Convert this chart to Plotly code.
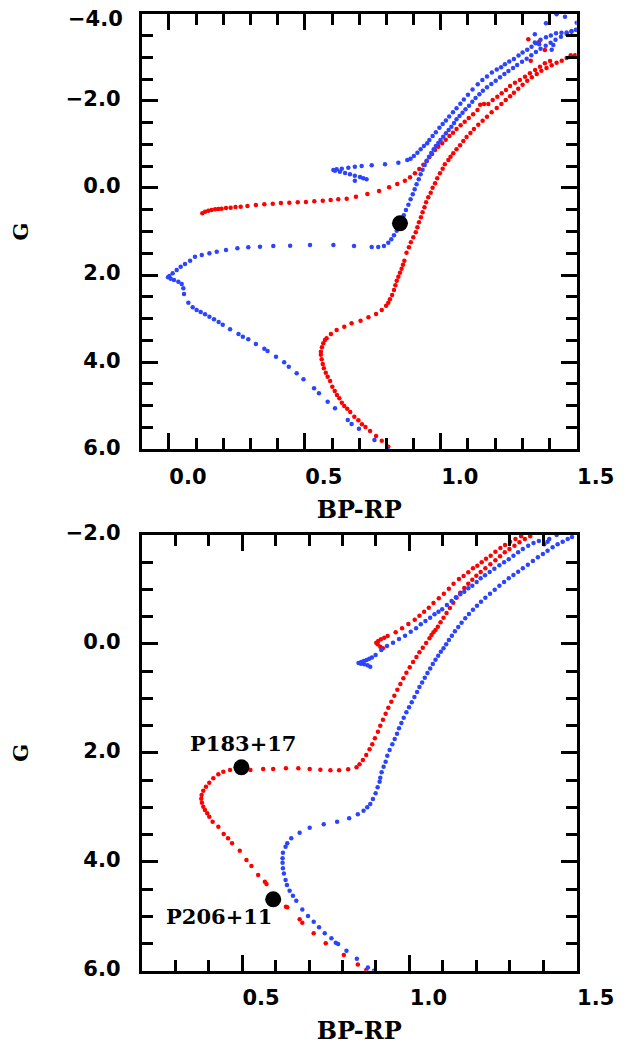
import plotly.graph_objects as go

# ---------------- data (BP-RP, G) ----------------
# Top panel
top_red_rgb = [(0.807,5.939),(0.783,5.802),(0.762,5.695),(0.740,5.580),(0.723,5.488),(0.710,5.427),(0.697,5.335),(0.682,5.251),
 (0.667,5.144),(0.656,5.067),(0.645,5.006),(0.636,4.929),(0.627,4.830),(0.618,4.754),(0.610,4.662),(0.601,4.562),(0.593,4.432),
 (0.584,4.333),(0.577,4.241),(0.570,4.141),(0.566,4.042),(0.562,3.935),(0.559,3.828),(0.559,3.759),(0.563,3.659),(0.568,3.567),
 (0.574,3.491),(0.580,3.453),(0.596,3.353),(0.617,3.261),(0.645,3.185),(0.672,3.108),(0.705,3.047),(0.734,2.970),(0.762,2.894),
 (0.783,2.802),(0.799,2.703),(0.807,2.634),(0.813,2.557),(0.821,2.458),(0.828,2.343),(0.833,2.236),(0.838,2.129),(0.844,2.037),
 (0.850,1.945),(0.856,1.853),(0.861,1.761),(0.866,1.670),(0.874,1.486),(0.883,1.363),(0.890,1.249),(0.899,1.134),(0.908,1.019),
 (0.914,0.904),(0.920,0.790),(0.927,0.675),(0.933,0.560),(0.940,0.445),(0.946,0.330),(0.954,0.216),(0.963,0.109),(0.970,-0.006),
 (0.979,-0.106),(0.987,-0.220),(0.997,-0.335),(1.007,-0.443),(1.015,-0.542),(1.028,-0.641),(1.036,-0.718),(1.046,-0.794),
 (1.058,-0.886),(1.071,-0.978),(1.083,-1.078),(1.095,-1.169),(1.109,-1.261),(1.122,-1.353),(1.138,-1.453),(1.154,-1.544),
 (1.170,-1.636),(1.187,-1.736),(1.206,-1.835),(1.223,-1.927),(1.239,-2.019),(1.255,-2.103),(1.269,-2.187),(1.285,-2.279),
 (1.301,-2.371),(1.318,-2.463),(1.335,-2.539),(1.353,-2.616),(1.370,-2.692),(1.389,-2.753),(1.408,-2.815),(1.426,-2.876),
 (1.445,-2.922),(1.463,-2.983),(1.478,-3.044),(1.494,-3.044)]

top_red_loop = [(0.123,0.583),(0.133,0.545),(0.145,0.522),(0.157,0.506),(0.170,0.491),(0.182,0.483),(0.194,0.476),(0.210,0.461),
 (0.227,0.453),(0.245,0.437),(0.264,0.430),(0.289,0.415),(0.320,0.392),(0.351,0.376),(0.382,0.361),(0.412,0.346),(0.443,0.338),
 (0.474,0.330),(0.504,0.323),(0.535,0.308),(0.566,0.292),(0.595,0.277),(0.623,0.261),(0.654,0.246),(0.688,0.200),(0.730,0.139),
 (0.773,0.070),(0.810,-0.014),(0.840,-0.090),(0.868,-0.167),(0.887,-0.243),(0.905,-0.335),(0.921,-0.435),(0.936,-0.534),
 (0.948,-0.611),(0.958,-0.703),(0.968,-0.779),(0.979,-0.871),(0.991,-0.947),(1.005,-1.024),(1.018,-1.108),(1.032,-1.192),
 (1.045,-1.269),(1.058,-1.353),(1.073,-1.437),(1.088,-1.521),(1.103,-1.606),(1.119,-1.690),(1.135,-1.789),(1.145,-1.912),
 (1.159,-1.927),(1.175,-1.927),(1.191,-2.019),(1.208,-2.095),(1.224,-2.172),(1.240,-2.248),(1.255,-2.340),(1.273,-2.417),
 (1.291,-2.478),(1.310,-2.554),(1.328,-2.631),(1.347,-2.708),(1.365,-2.784),(1.383,-2.860),(1.402,-2.914),
 (1.322,-3.411),(1.362,-3.358),(1.383,-3.167),(1.331,-2.922)]

top_blue_ms = [(0.803,6.001),(0.756,5.786),(0.699,5.526),(0.672,5.419),(0.658,5.327),(0.611,5.060),(0.584,4.906),(0.552,4.715),
 (0.534,4.600),(0.495,4.394),(0.470,4.256),(0.441,4.103),(0.424,4.004),(0.394,3.873),(0.363,3.743),(0.351,3.690),(0.320,3.583),
 (0.292,3.475),(0.272,3.414),(0.256,3.353),(0.225,3.246),(0.198,3.139),(0.183,3.078),(0.166,3.016),(0.149,2.955),(0.133,2.902),
 (0.117,2.848),(0.102,2.802),(0.0875,2.741),(0.0716,2.634),(0.0556,2.435),(0.0532,2.305),(0.0471,2.205),(0.0348,2.152),
 (0.0189,2.113),(0.0066,2.083),(-0.0032,2.052),(0.0017,2.022),(0.0139,1.960),(0.0287,1.884),(0.0434,1.807),(0.0593,1.746),
 (0.078,1.670),(0.096,1.578),(0.121,1.540),(0.149,1.501),(0.176,1.463),(0.210,1.425),(0.252,1.386),(0.292,1.363),(0.335,1.348),
 (0.384,1.333),(0.446,1.325),(0.519,1.310),(0.605,1.310),(0.681,1.333),(0.746,1.356),(0.770,1.356),(0.791,1.333),(0.807,1.256),
 (0.818,1.180),(0.828,1.088),(0.838,0.981),(0.846,0.874),(0.855,0.751),(0.864,0.629),(0.872,0.507),(0.881,0.384),(0.889,0.262),
 (0.897,0.147),(0.904,0.032),(0.911,-0.083),(0.919,-0.198),(0.926,-0.312),(0.933,-0.419),(0.941,-0.527),(0.948,-0.626),
 (0.957,-0.718),(0.965,-0.802),(0.974,-0.886),(0.982,-0.963),(0.991,-1.032),(0.999,-1.101),(1.009,-1.177),(1.019,-1.254),
 (1.029,-1.330),(1.039,-1.407),(1.049,-1.491),(1.058,-1.575),(1.069,-1.652),(1.080,-1.728),(1.091,-1.805),(1.104,-1.889),
 (1.116,-1.981),(1.128,-2.065),(1.142,-2.149),(1.155,-2.233),(1.170,-2.310),(1.186,-2.386),(1.202,-2.463),(1.218,-2.539),
 (1.234,-2.616),(1.249,-2.685),(1.266,-2.754),(1.281,-2.822),(1.299,-2.899),(1.316,-2.968),(1.333,-3.044),(1.350,-3.121),
 (1.367,-3.197),(1.386,-3.266),(1.404,-3.335),(1.422,-3.404),(1.442,-3.473),(1.463,-3.534),(1.481,-3.588),(1.500,-3.626)]

top_blue_loop = [(0.684,-0.167),(0.727,-0.197),(0.715,-0.220),(0.703,-0.251),(0.684,-0.282),(0.666,-0.312),(0.648,-0.343),
 (0.629,-0.374),(0.611,-0.397),(0.605,-0.412),(0.617,-0.427),(0.636,-0.443),(0.660,-0.465),(0.684,-0.488),(0.709,-0.504),
 (0.746,-0.519),(0.795,-0.542),(0.844,-0.580),(0.877,-0.641),(0.889,-0.672),(0.901,-0.733),(0.914,-0.810),(0.926,-0.886),
 (0.938,-0.963),(0.950,-1.024),(0.958,-1.10),(0.970,-1.19),(0.982,-1.28),(0.995,-1.38),(1.007,-1.47),(1.019,-1.55),(1.031,-1.64),
 (1.045,-1.74),(1.058,-1.83),(1.072,-1.93),(1.085,-2.03),(1.100,-2.14),(1.117,-2.26),(1.136,-2.38),(1.153,-2.48),(1.170,-2.56),
 (1.188,-2.65),(1.206,-2.72),(1.222,-2.77),(1.236,-2.84),(1.252,-2.90),(1.269,-2.96),(1.286,-3.04),(1.301,-3.11),(1.318,-3.17),
 (1.334,-3.24),(1.350,-3.32),(1.367,-3.40),(1.387,-3.46),(1.405,-3.50),(1.424,-3.55),(1.444,-3.56),(1.463,-3.57),(1.481,-3.60),
 (1.497,-3.63),(1.387,-3.78),(1.426,-3.99),(1.457,-3.93),(1.500,-3.79),(1.346,-3.53),(1.346,-3.34),(1.362,-3.30),(1.414,-3.28),
 (1.408,-3.17)]

top_star = [(0.850, 0.813)]

# Bottom panel
bot_red_rgb = [(0.871,5.988),(0.846,5.884),(0.804,5.712),(0.750,5.498),(0.714,5.314),(0.680,5.118),(0.672,5.057),(0.635,4.837),
 (0.631,4.825),(0.598,4.610),(0.573,4.408),(0.568,4.366),(0.548,4.243),(0.528,4.078),(0.513,3.968),(0.493,3.796),(0.470,3.662),
 (0.458,3.570),(0.445,3.490),(0.429,3.356),(0.412,3.264),(0.402,3.172),(0.396,3.111),(0.389,3.050),(0.384,2.988),(0.380,2.915),
 (0.378,2.841),(0.379,2.774),(0.384,2.695),(0.392,2.621),(0.402,2.548),(0.414,2.468),(0.429,2.395),(0.444,2.346),(0.464,2.315),
 (0.489,2.346),(0.525,2.315),(0.563,2.297),(0.593,2.297),(0.631,2.285),(0.668,2.285),(0.702,2.297),(0.734,2.309),(0.764,2.321),
 (0.790,2.321),(0.817,2.303),(0.842,2.266),(0.851,2.211),(0.861,2.132),(0.871,2.040),(0.881,1.936),(0.889,1.844),(0.897,1.734),
 (0.906,1.611),(0.913,1.501),(0.921,1.391),(0.929,1.281),(0.937,1.171),(0.946,1.060),(0.955,0.950),(0.964,0.840),(0.973,0.736),
 (0.982,0.632),(0.991,0.528),(1.001,0.430),(1.011,0.332),(1.021,0.240),(1.030,0.155),(1.040,0.069),(1.050,-0.017),(1.060,-0.102),
 (1.066,-0.164),(1.072,-0.213),(1.078,-0.256),(1.085,-0.317),(1.093,-0.396),(1.102,-0.482),(1.111,-0.568),(1.121,-0.660),
 (1.131,-0.757),(1.141,-0.849),(1.152,-0.941),(1.164,-1.027),(1.176,-1.106),(1.188,-1.180),(1.200,-1.253),(1.213,-1.321),
 (1.227,-1.388),(1.242,-1.461),(1.257,-1.535),(1.271,-1.608),(1.285,-1.682),(1.299,-1.743),(1.314,-1.804),(1.329,-1.865),
 (1.345,-1.927),(1.361,-1.976)]

bot_red_loop = [(0.921,0.081),(0.913,0.050),(0.905,0.008),(0.901,-0.023),(0.907,-0.054),(0.915,-0.084),(0.925,-0.115),
 (0.935,-0.145),(0.959,-0.213),(0.978,-0.286),(0.997,-0.366),(1.016,-0.445),(1.030,-0.519),(1.044,-0.592),(1.058,-0.666),
 (1.072,-0.751),(1.088,-0.837),(1.103,-0.923),(1.118,-1.015),(1.132,-1.106),(1.148,-1.192),(1.162,-1.247),(1.176,-1.314),
 (1.190,-1.388),(1.203,-1.437),(1.216,-1.498),(1.229,-1.565),(1.243,-1.621),(1.257,-1.694),(1.272,-1.761),(1.286,-1.816),
 (1.301,-1.878),(1.317,-1.927),(1.334,-1.976)]

bot_blue_rgb = [(0.894,6.000),(0.876,5.939),(0.843,5.779),(0.812,5.633),(0.787,5.510),(0.780,5.486),(0.767,5.406),(0.747,5.314),
 (0.730,5.204),(0.714,5.100),(0.697,4.996),(0.680,4.874),(0.662,4.715),(0.652,4.623),(0.642,4.531),(0.634,4.427),(0.630,4.335),
 (0.625,4.213),(0.622,4.121),(0.621,4.017),(0.621,3.937),(0.622,3.833),(0.630,3.723),(0.635,3.662),(0.647,3.570),(0.672,3.466),
 (0.702,3.374),(0.744,3.313),(0.784,3.264),(0.820,3.203),(0.846,3.129),(0.863,3.062),(0.874,3.001),(0.883,2.939),(0.891,2.848),
 (0.899,2.744),(0.905,2.633),(0.911,2.529),(0.913,2.456),(0.917,2.358),(0.923,2.254),(0.929,2.162),(0.934,2.052),(0.941,1.948),
 (0.949,1.844),(0.956,1.746),(0.963,1.648),(0.969,1.550),(0.976,1.452),(0.983,1.354),(0.991,1.256),(0.999,1.164),(1.007,1.073),
 (1.015,0.975),(1.023,0.883),(1.030,0.791),(1.038,0.706),(1.046,0.620),(1.054,0.534),(1.062,0.449),(1.070,0.369),(1.078,0.289),
 (1.086,0.216),(1.094,0.142),(1.102,0.081),(1.110,0.008),(1.118,-0.072),(1.127,-0.151),(1.136,-0.231),(1.146,-0.311),
 (1.156,-0.390),(1.167,-0.470),(1.178,-0.549),(1.190,-0.629),(1.202,-0.702),(1.214,-0.776),(1.227,-0.849),(1.241,-0.923),
 (1.255,-0.996),(1.269,-1.070),(1.283,-1.137),(1.297,-1.204),(1.311,-1.266),(1.325,-1.327),(1.339,-1.388),(1.354,-1.455),
 (1.369,-1.523),(1.384,-1.590),(1.399,-1.651),(1.413,-1.712),(1.428,-1.774),(1.443,-1.829),(1.458,-1.878),(1.473,-1.927),
 (1.486,-1.963)]

bot_blue_loop = [(0.883,0.418),(0.875,0.393),(0.865,0.375),(0.855,0.363),(0.848,0.351),(0.856,0.332),(0.864,0.314),(0.872,0.296),
 (0.880,0.271),(0.888,0.247),(0.899,0.204),(0.916,0.112),(0.933,0.038),(0.951,-0.023),(0.969,-0.090),(0.987,-0.151),
 (1.004,-0.225),(1.020,-0.286),(1.034,-0.360),(1.048,-0.421),(1.062,-0.482),(1.075,-0.543),(1.087,-0.592),(1.098,-0.635),
 (1.112,-0.715),(1.126,-0.788),(1.139,-0.855),(1.152,-0.910),(1.164,-0.959),(1.176,-1.021),(1.188,-1.070),(1.201,-1.137),
 (1.213,-1.204),(1.226,-1.259),(1.240,-1.321),(1.254,-1.382),(1.269,-1.443),(1.283,-1.498),(1.297,-1.553),(1.311,-1.620),
 (1.325,-1.682),(1.339,-1.743),(1.355,-1.804),(1.371,-1.853),(1.387,-1.890),(1.403,-1.829),(1.413,-1.878),(1.418,-1.927),
 (1.440,-2.000)]

star_names = ["P183+17", "P206+11"]
star_bprp = [0.498, 0.593]
star_g = [2.266, 4.690]
label_bprp = [0.502, 0.432]
label_g = [1.83, 5.01]

# tick labels of the G axes
top_g_ticks = [-4, -2, 0, 2, 4, 6]
top_g_text = ["", "\u22122.0", "0.0", "2.0", "4.0", "6.0"]   # the -4.0 label sits at the top edge (drawn below)
top_edge_label = "\u22124.0"

RED = "#ff0000"
BLUE = "#2a44ff"
DOT = 4.5

fig = go.Figure()

def add_pts(pts, color, xa, ya):
    fig.add_trace(go.Scatter(
        x=[p[0] for p in pts], y=[p[1] for p in pts], mode="markers",
        marker=dict(size=DOT, color=color, line=dict(width=0)),
        xaxis=xa, yaxis=ya, showlegend=False, hoverinfo="skip"))

add_pts(top_red_rgb, RED, "x", "y")
add_pts(top_red_loop, RED, "x", "y")
add_pts(top_blue_ms, BLUE, "x", "y")
add_pts(top_blue_loop, BLUE, "x", "y")
fig.add_trace(go.Scatter(x=[p[0] for p in top_star], y=[p[1] for p in top_star], mode="markers",
                         marker=dict(size=16, color="black"), xaxis="x", yaxis="y", showlegend=False))

add_pts(bot_red_rgb, RED, "x2", "y2")
add_pts(bot_red_loop, RED, "x2", "y2")
add_pts(bot_blue_rgb, BLUE, "x2", "y2")
add_pts(bot_blue_loop, BLUE, "x2", "y2")
fig.add_trace(go.Scatter(x=star_bprp, y=star_g, mode="markers",
                         marker=dict(size=16, color="black"), xaxis="x2", yaxis="y2", showlegend=False))

for name, lx, ly in zip(star_names, label_bprp, label_g):
    fig.add_annotation(x=lx, y=ly, xref="x2", yref="y2", text=name, showarrow=False,
                       font=dict(family="DejaVu Serif", size=21, color="black", weight="bold"))

TICKF = dict(family="DejaVu Sans", size=21, color="black", weight="bold")
TITLEF = dict(family="DejaVu Serif", size=24, color="black", weight="bold")

def xax(rng, domain, anchor):
    return dict(domain=domain, anchor=anchor, range=rng, tickmode="linear", tick0=0, dtick=0.5,
                ticks="inside", ticklen=16, tickwidth=3, tickcolor="black",
                minor=dict(tickmode="linear", tick0=0, dtick=0.1, ticks="inside", ticklen=11, tickwidth=3, tickcolor="black"),
                showline=True, linewidth=3, linecolor="black", mirror="allticks",
                showgrid=False, zeroline=False, tickformat=".1f", tickfont=TICKF,
                ticklabelshift=19, ticklabelstandoff=6, automargin=False, ticklabeloverflow="allow",
                title=dict(text="BP-RP", font=TITLEF, standoff=14))

def yax(rng, domain, anchor):
    return dict(domain=domain, anchor=anchor, range=rng, tickmode="linear", tick0=0, dtick=2,
                ticks="inside", ticklen=16, tickwidth=3, tickcolor="black",
                minor=dict(tickmode="linear", tick0=0, dtick=0.5, ticks="inside", ticklen=11, tickwidth=3, tickcolor="black"),
                showline=True, linewidth=3, linecolor="black", mirror="allticks",
                showgrid=False, zeroline=False, tickformat=".1f", tickfont=TICKF,
                ticklabelstandoff=14, ticklabelshift=2, automargin=False, ticklabeloverflow="allow",
                title=dict(text="G", font=dict(family="DejaVu Serif", size=21, color="black", weight="bold"), standoff=32))

# the page body adds an 8 px offset; the figure is sized so the window shows it fully
W, H, OFF = 627, 1038, 8
XD = [(141.7 - OFF) / W, (576.7 - OFF) / W]
top_y = yax([6, -4], [1 - (449.3 - OFF) / H, 1 - (13.7 - OFF) / H], "x")
top_y.update(tickmode="array", tickvals=top_g_ticks, ticktext=top_g_text)
fig.update_layout(
    width=W, height=H,
    margin=dict(l=0, r=0, t=0, b=0, autoexpand=False),
    paper_bgcolor="white", plot_bgcolor="white",
    xaxis=xax([-0.1, 1.5], XD, "y"),
    yaxis=top_y,
    xaxis2=xax([0.2, 1.5], XD, "y2"),
    yaxis2=yax([6, -2], [1 - (970.7 - OFF) / H, 1 - (535.0 - OFF) / H], "x2"),
)
fig.add_annotation(x=(125 - OFF) / W, y=-4, xref="paper", yref="y", text=top_edge_label,
                   xanchor="right", yanchor="middle", yshift=-5, showarrow=False, font=TICKF)

fig.write_html("out.html")
